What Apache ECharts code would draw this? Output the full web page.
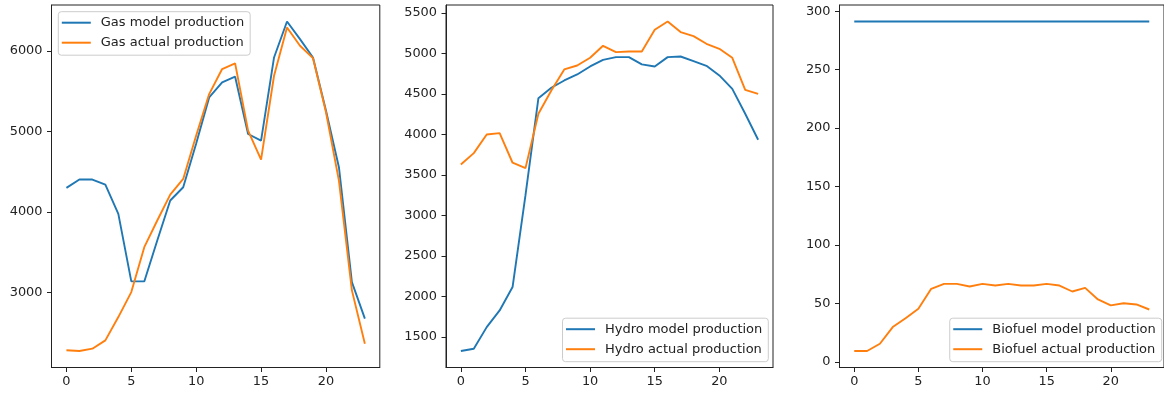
<!DOCTYPE html>
<html>
<head>
<meta charset="utf-8">
<script src="https://cdn.jsdelivr.net/npm/echarts@6/dist/echarts.min.js"></script>
<style>
  html, body { margin: 0; padding: 0; background: #fff; }
  #chart { width: 1164px; height: 393px; }
</style>
</head>
<body>
<div id="chart"></div>
<script>
// Hourly production, model vs actual, for three energy sources
const hours = Array.from({ length: 24 }, (_, i) => i);

const gasModel = [4300, 4403, 4403, 4341, 3978, 3140, 3140, 3648, 4143, 4308, 4850, 5422,
                  5608, 5678, 4968, 4886, 5917, 6363, 6144, 5917, 5260, 4556, 3132, 2678];
const gasActual = [2286, 2277, 2306, 2409, 2698, 3008, 3565, 3895, 4217, 4411, 4950, 5463,
                   5773, 5843, 5010, 4650, 5690, 6289, 6062, 5909, 5240, 4390, 3029, 2368];

const hydroModel = [1327, 1355, 1622, 1828, 2116, 3250, 4447, 4575, 4665, 4739, 4838, 4920,
                    4953, 4953, 4863, 4838, 4953, 4961, 4904, 4846, 4727, 4562, 4254, 3934];
const hydroActual = [3629, 3769, 3999, 4016, 3650, 3584, 4254, 4542, 4801, 4850, 4945, 5093,
                     5015, 5023, 5023, 5290, 5393, 5262, 5212, 5118, 5056, 4945, 4550, 4500];

const bioModel = [291.2, 291.2, 291.2, 291.2, 291.2, 291.2, 291.2, 291.2, 291.2, 291.2, 291.2, 291.2,
                  291.2, 291.2, 291.2, 291.2, 291.2, 291.2, 291.2, 291.2, 291.2, 291.2, 291.2, 291.2];
const bioActual = [9.4, 9.4, 15.6, 29.9, 37.5, 45.5, 62.6, 66.8, 66.8, 64.6, 66.8, 65.4,
                   66.8, 65.4, 65.4, 66.8, 65.4, 60.3, 63.4, 53.5, 48.4, 50.3, 49.2, 44.9];

const xTicks = [0, 5, 10, 15, 20];
const gasTicks = [3000, 4000, 5000, 6000];
const hydroTicks = [1500, 2000, 2500, 3000, 3500, 4000, 4500, 5000, 5500];
const bioTicks = [0, 50, 100, 150, 200, 250, 300];

const gasNames = ['Gas model production', 'Gas actual production'];
const hydroNames = ['Hydro model production', 'Hydro actual production'];
const bioNames = ['Biofuel model production', 'Biofuel actual production'];

const BLUE = '#1f77b4';
const ORANGE = '#ff7f0e';
const FONT = 'DejaVu Sans';
const TEXT = '#222';

// pad an axis range by 5% of the data span on each side
function padded(arrays) {
  const all = [].concat(...arrays);
  const lo = Math.min(...all), hi = Math.max(...all);
  const m = (hi - lo) * 0.05;
  return [lo - m, hi + m];
}

const xRange = padded([hours]);
const gasRange = padded([gasModel, gasActual]);
const hydroRange = padded([hydroModel, hydroActual]);
const bioRange = padded([bioModel, bioActual]);

const grids = [
  { left: 51.5, top: 5, width: 328.3, height: 362.5 },
  { left: 446, top: 5, width: 327, height: 362.5 },
  { left: 839.5, top: 5, width: 328.5, height: 362.5 }
].map(g => Object.assign(g, { show: true, borderColor: '#222', borderWidth: 1, backgroundColor: 'transparent' }));

const plain = v => String(v);

function xAxis(gi) {
  return {
    type: 'value', gridIndex: gi, min: xRange[0], max: xRange[1],
    axisLine: { show: true, onZero: false, lineStyle: { color: '#222', width: 1 } },
    axisTick: { show: true, length: 4.5, lineStyle: { color: '#222' }, customValues: xTicks },
    axisLabel: { customValues: xTicks, formatter: plain, color: TEXT, fontFamily: FONT, fontSize: 12.9, margin: 8 },
    splitLine: { show: false }
  };
}
function yAxis(gi, range, ticks) {
  return {
    type: 'value', gridIndex: gi, min: range[0], max: range[1],
    axisLine: { show: true, onZero: false, lineStyle: { color: '#222', width: 1 } },
    axisTick: { show: true, length: 4.5, lineStyle: { color: '#222' }, customValues: ticks },
    axisLabel: { customValues: ticks, formatter: plain, color: TEXT, fontFamily: FONT, fontSize: 12.9, margin: 9 },
    splitLine: { show: false }
  };
}

function line(name, values, gi, color) {
  return {
    name, type: 'line', xAxisIndex: gi, yAxisIndex: gi,
    data: values.map((v, i) => [hours[i], v]),
    showSymbol: false, symbol: 'none',
    lineStyle: { color, width: 1.9 }, itemStyle: { color },
    emphasis: { disabled: true }, z: 3
  };
}

const legendBase = {
  orient: 'vertical', icon: 'rect', itemWidth: 29, itemHeight: 2, itemGap: 5,
  padding: [3.5, 6, 5, 3.5],
  backgroundColor: 'rgba(255,255,255,0.8)', borderColor: '#cccccc', borderWidth: 1, borderRadius: 3,
  textStyle: { fontFamily: FONT, fontSize: 13, color: TEXT, lineHeight: 15, padding: [0, 0, 0, 5] },
  selectedMode: false
};

const option = {
  animation: false,
  backgroundColor: '#fff',
  grid: grids,
  xAxis: [xAxis(0), xAxis(1), xAxis(2)],
  yAxis: [yAxis(0, gasRange, gasTicks), yAxis(1, hydroRange, hydroTicks), yAxis(2, bioRange, bioTicks)],
  legend: [
    Object.assign({}, legendBase, { data: gasNames, left: 58.3, top: 11.7 }),
    Object.assign({}, legendBase, { data: hydroNames, right: 395.7, bottom: 31.3 }),
    Object.assign({}, legendBase, { data: bioNames, right: 2.3, bottom: 31.3 })
  ],
  series: [
    line(gasNames[0], gasModel, 0, BLUE),
    line(gasNames[1], gasActual, 0, ORANGE),
    line(hydroNames[0], hydroModel, 1, BLUE),
    line(hydroNames[1], hydroActual, 1, ORANGE),
    line(bioNames[0], bioModel, 2, BLUE),
    line(bioNames[1], bioActual, 2, ORANGE)
  ]
};

const chart = echarts.init(document.getElementById('chart'), null, { renderer: 'canvas' });
chart.setOption(option);
</script>
</body>
</html>
